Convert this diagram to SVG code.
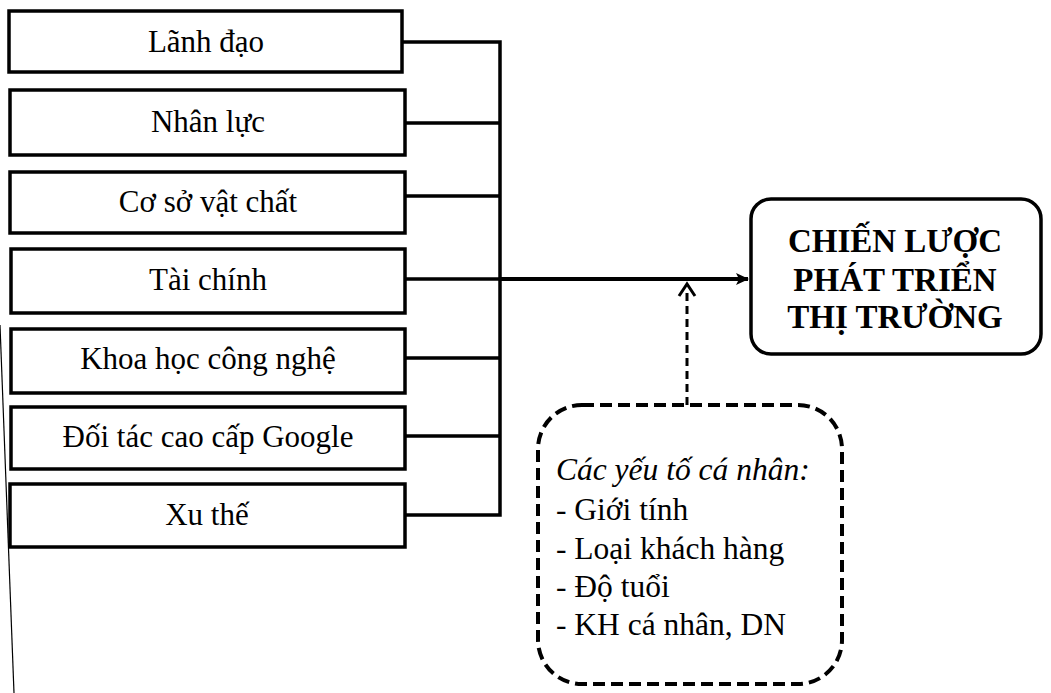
<svg xmlns="http://www.w3.org/2000/svg" width="1051" height="693" viewBox="0 0 1051 693">
<style>
.box{fill:#fff;stroke:#000;stroke-width:3.5}
.lbl{font-family:"Liberation Serif","Times New Roman",serif;font-size:31px;fill:#000;text-anchor:middle}
.con{fill:none;stroke:#000;stroke-width:3.5}
.title{font-family:"Liberation Serif","Times New Roman",serif;font-size:33px;font-weight:bold;fill:#000;text-anchor:middle}
.note{font-family:"Liberation Serif","Times New Roman",serif;font-size:31.5px;fill:#000}
</style>
<defs>
<marker id="ah" markerWidth="14" markerHeight="14" refX="12" refY="7" orient="auto" markerUnits="userSpaceOnUse">
<path d="M0,1 L13,7 L0,13 L3,7 Z" fill="#000"/>
</marker>
</defs>
<rect width="1051" height="693" fill="#fff"/>
<line x1="0" y1="325" x2="14" y2="693" stroke="#000" stroke-width="1.2"/>
<g id="n1"><rect class="box" x="9" y="11" width="393" height="61"/><text class="lbl" x="206" y="52">Lãnh đạo</text></g>
<g id="n2"><rect class="box" x="10" y="90" width="395" height="65"/><text class="lbl" x="208" y="132">Nhân lực</text></g>
<g id="n3"><rect class="box" x="10" y="172" width="395" height="61"/><text class="lbl" x="208" y="212">Cơ sở vật chất</text></g>
<g id="n4"><rect class="box" x="11" y="249" width="394" height="64"/><text class="lbl" x="208" y="290">Tài chính</text></g>
<g id="n5"><rect class="box" x="11" y="329" width="394" height="64"/><text class="lbl" x="208" y="369">Khoa học công nghệ</text></g>
<g id="n6"><rect class="box" x="11" y="407" width="394" height="62"/><text class="lbl" x="208" y="447">Đối tác cao cấp Google</text></g>
<g id="n7"><rect class="box" x="10" y="484" width="395" height="63"/><text class="lbl" x="207" y="525">Xu thế</text></g>
<g id="target"><rect x="751" y="199" width="290" height="155" rx="20" fill="#fff" stroke="#000" stroke-width="3.5"/>
<text class="title" x="895" y="252">CHIẾN LƯỢC</text>
<text class="title" x="895" y="291">PHÁT TRIỂN</text>
<text class="title" x="895" y="328">THỊ TRƯỜNG</text></g>
<g id="personal"><rect x="538" y="405" width="304" height="279" rx="44" fill="#fff" stroke="#000" stroke-width="4" stroke-dasharray="12 6"/>
<text class="note" x="556" y="480" font-style="italic">Các yếu tố cá nhân:</text>
<text class="note" x="556" y="520">- Giới tính</text>
<text class="note" x="556" y="559">- Loại khách hàng</text>
<text class="note" x="556" y="597">- Độ tuổi</text>
<text class="note" x="556" y="635">- KH cá nhân, DN</text></g>
<g id="connectors">
<path class="con" d="M402,42 H500 V515 H405 M405,123 H500 M405,196 H500 M405,358 H500 M405,436 H500 M405,279 H500"/>
<line x1="500" y1="279" x2="748" y2="279" stroke="#000" stroke-width="4" marker-end="url(#ah)"/>
<line x1="687" y1="405" x2="687" y2="290" stroke="#000" stroke-width="3" stroke-dasharray="8 5"/>
<path d="M679,296 L687,284 L695,296" fill="none" stroke="#000" stroke-width="3"/>
</g>
</svg>
